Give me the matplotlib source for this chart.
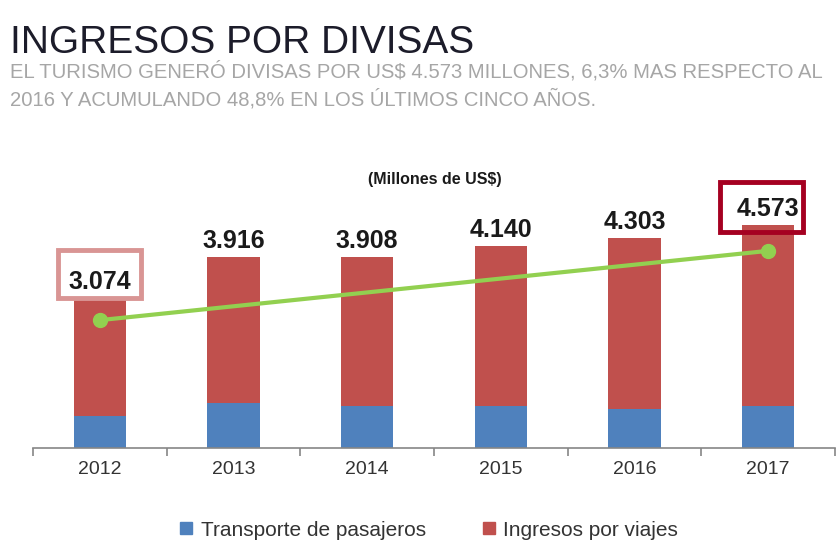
import numpy as np
import matplotlib
matplotlib.use("Agg")
import matplotlib.pyplot as plt
from matplotlib.patches import Rectangle
from matplotlib.lines import Line2D

years = ["2012", "2013", "2014", "2015", "2016", "2017"]
totals = [3074, 3916, 3908, 4140, 4303, 4573]
transporte = [655, 925, 865, 860, 800, 860]
viajes = [t - p for t, p in zip(totals, transporte)]
trend_years = [0, 5]
trend_values = [2620, 4040]

blue = "#4f81bd"
red = "#c0504d"
green = "#92d050"

plt.rcParams["font.family"] = ["Liberation Sans", "DejaVu Sans"]

fig = plt.figure(figsize=(8.39, 5.44), dpi=100)
fig.patch.set_facecolor("white")

fig.text(0.012, 1 - 53 / 544, "INGRESOS POR DIVISAS", fontsize=28, color="#1c1c2a",
         ha="left", va="baseline")
fig.text(0.012, 1 - 78 / 544, "EL TURISMO GENERÓ DIVISAS POR US$ 4.573 MILLONES, 6,3% MAS RESPECTO AL",
         fontsize=14.6, color="#a6a6a6", ha="left", va="baseline")
fig.text(0.012, 1 - 105 / 544, "2016 Y ACUMULANDO 48,8% EN LOS ÚLTIMOS CINCO AÑOS.",
         fontsize=14.6, color="#a6a6a6", ha="left", va="baseline")

ax = fig.add_axes([33 / 839, 96 / 544, 802 / 839, 244 / 544])
x = np.arange(len(years))
ax.bar(x, transporte, width=0.39, color=blue)
ax.bar(x, viajes, width=0.39, bottom=transporte, color=red)
ax.plot(trend_years, trend_values, color=green, lw=3, marker="o",
        markersize=10, markevery=[0, 1], zorder=4)

for i, t in enumerate(totals):
    ax.annotate(f"{t:,}".replace(",", "."), (i, t), xytext=(0, 3),
                textcoords="offset points", ha="center", va="bottom",
                fontsize=18, fontweight="bold", color="#1a1a1a")

# highlight boxes around first and last totals
ax.add_patch(Rectangle((0 - 0.31, 3074), 0.62, 980, fill=False,
                       edgecolor="#d99594", lw=3.5, clip_on=False, zorder=5))
ax.add_patch(Rectangle((5 - 0.36, 4430), 0.62, 1020, fill=False,
                       edgecolor="#a50021", lw=3.5, clip_on=False, zorder=5))

ax.set_xlim(-0.5, 5.5)
ax.set_ylim(0, 5000)
ax.set_yticks([])
for s in ["top", "right", "left"]:
    ax.spines[s].set_visible(False)
ax.spines["bottom"].set_color("#868686")
ax.spines["bottom"].set_linewidth(1.2)
ax.set_xticks(x)
ax.set_xticklabels(years, fontsize=14, color="#333333")
ax.tick_params(axis="x", which="major", length=0, pad=9)
ax.set_xticks(np.arange(-0.5, 6, 1), minor=True)
ax.tick_params(axis="x", which="minor", length=6, color="#868686", width=1.2)

fig.text(435 / 839, 1 - 180 / 544, "(Millones de US$)", fontsize=11.5,
         fontweight="bold", color="#1a1a1a", ha="center", va="center")

handles = [Line2D([], [], marker="s", ls="", color=blue, markersize=9),
           Line2D([], [], marker="s", ls="", color=red, markersize=9)]
fig.legend(handles, ["Transporte de pasajeros", "Ingresos por viajes"],
           loc="center", bbox_to_anchor=(428 / 839, 1 - 530 / 544), ncol=2,
           frameon=False, fontsize=15, handlelength=0.8, handletextpad=0.3,
           columnspacing=2.6, labelcolor="#333333")

fig.savefig("out.png", dpi=100)
